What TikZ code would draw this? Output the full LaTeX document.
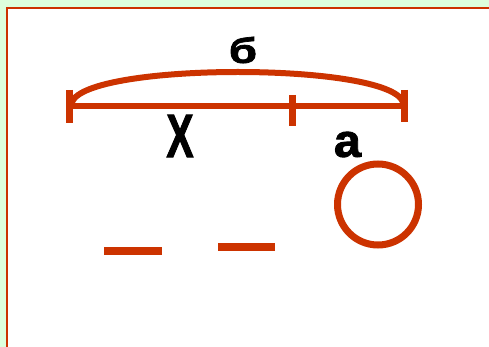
\documentclass[tikz,border=0pt]{standalone}
\usepackage{fontspec}
\setmainfont{Liberation Sans}
\newfontfamily\heavy[FakeBold=2]{Liberation Sans}
\definecolor{bgreen}{HTML}{DDFFDD}
\definecolor{rust}{HTML}{CC3300}
\tikzset{
  seg/.style={draw=rust, line width=6pt},
  tick/.style={draw=rust, line width=7pt},
  dashbar/.style={draw=rust, line width=7.5pt},
  lbl/.style={font=\heavy\bfseries, inner sep=0pt, text=black},
}
\begin{document}
\begin{tikzpicture}[x=1pt,y=-1pt]
\useasboundingbox (0,0) rectangle (489,347);
\fill[bgreen] (0,0) rectangle (489,347);
\filldraw[fill=white, draw=rust, line width=2pt] (7,8) rectangle (495,355);
% main segment
\coordinate (L) at (69,106.5);
\coordinate (M) at (292,106.5);
\coordinate (R) at (404,106.5);
\draw[seg] (L) -- (R);
\draw[tick] (69,90) -- (69,123);
\draw[tick] (292,95) -- (292,126);
\draw[tick] (404,90) -- (404,122);
% arc
\draw[seg] (72,102) .. controls (88,62) and (388,62) .. (403,102);
% labels
\node[lbl] (b) at (243,50) {\resizebox{28pt}{26pt}{б}};
\node[lbl] (x) at (180,136) {\resizebox{27pt}{42pt}{X}};
\node[lbl] (a) at (347.5,144.5) {\resizebox{27pt}{25pt}{а}};
% bottom
\draw[dashbar] (104,251) -- (162,251);
\draw[dashbar] (218,247) -- (275,247);
\draw[draw=rust, line width=7pt] (378,204.5) circle (40.5);
\end{tikzpicture}
\end{document}
